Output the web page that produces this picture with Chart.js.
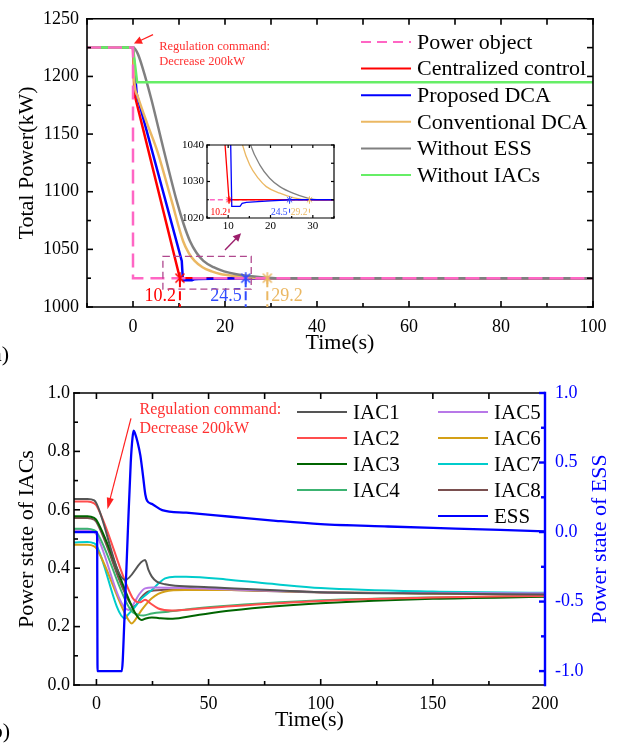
<!DOCTYPE html>
<html>
<head>
<meta charset="utf-8">
<script src="https://cdn.jsdelivr.net/npm/chart.js@4.4.1/dist/chart.umd.min.js"></script>
<style>
  body { margin: 0; background: #fff; }
  #wrap { position: relative; width: 634px; height: 752px; overflow: hidden; }
  canvas { position: absolute; }
</style>
</head>
<body>
<div id="wrap">
  <canvas id="powerChart" width="634" height="370" style="left:0;top:0"></canvas>
  <canvas id="zoomChart" width="171" height="100" style="left:169px;top:135px"></canvas>
  <canvas id="stateChart" width="634" height="382" style="left:0;top:370px"></canvas>
</div>
<script>
const FONT = "'Liberation Serif', 'Times New Roman', serif";
Chart.defaults.font.family = FONT;
Chart.defaults.color = '#000';

// (a) total power (kW) against time (s)
const objTime = [-10, 0, 0, 100];
const objPower = [1225, 1225, 1025, 1025];
const centralTime = [-10, 0, 0.3, 10.2, 100];
const centralPower = [1225, 1225, 1185, 1025, 1025];
const proposedTime = [-10, 0, 0.8, 10.6, 10.85, 12.8, 13.3, 14.3, 17, 20, 24.5, 100];
const proposedPower = [1225, 1225, 1185, 1040, 1023.2, 1023.2, 1024.0, 1024.3, 1024.5, 1024.7, 1025, 1025];
const conventionalTime = [-10, 0, 0.3, 1, 3, 5.3, 8.4, 10.9, 12.1, 13.4, 15.1, 17.1, 19, 22.2, 25.3, 29.2, 100];
const conventionalPower = [1225, 1225, 1195, 1183, 1160, 1135, 1092, 1057, 1047, 1040, 1034.5, 1030.9, 1028.6, 1026.8, 1025.6, 1025, 1025];
const noEssTime = [-10, 0, 1, 2.2, 4, 6.6, 9.5, 11, 12.4, 13.8, 15.3, 17.5, 19.8, 22.2, 25.3, 28.4, 31.6, 100];
const noEssPower = [1225, 1225, 1220, 1206, 1180, 1137.5, 1092, 1072, 1057, 1047, 1040, 1034.5, 1030.9, 1028.6, 1026.8, 1025.6, 1025, 1025];
const noIacTime = [-10, 0, 0.9, 100];
const noIacPower = [1225, 1225, 1195, 1195];

// settling points marked on the curves
const markTimes = [10.2, 24.5, 29.2];
const markPower = [1025, 1025, 1025];
const markColors = ['#ff0000', '#2f4bff', '#ebb863'];

const timeTicksA = [0, 20, 40, 60, 80, 100];
const powerTicks = [1000, 1050, 1100, 1150, 1200, 1250];
const zoomTimeTicks = [10, 20, 30];
const zoomPowerTicks = [1020, 1030, 1040];

// (b) power states of the IACs (left axis) and the ESS (right axis)
const iac1Time = [-10, -4, -1, 0, 12.8, 21.7, 23.2, 24.7, 26.9, 30.6, 35.1, 50, 100, 150, 200];
const iac1State = [0.637, 0.637, 0.632, 0.622, 0.36, 0.428, 0.394, 0.371, 0.354, 0.345, 0.34, 0.335, 0.318, 0.313, 0.31];
const iac2Time = [-10, -4, -1, 0, 16, 18, 19.5, 21.7, 24, 27.6, 33.6, 40, 60, 100, 150, 200];
const iac2State = [0.628, 0.628, 0.622, 0.615, 0.3, 0.285, 0.283, 0.292, 0.28, 0.262, 0.255, 0.258, 0.27, 0.288, 0.3, 0.305];
const iac3Time = [-10, -4, -1, 0, 17, 19, 20.2, 22, 24.7, 28, 34, 44, 60, 80, 100, 150, 200];
const iac3State = [0.578, 0.578, 0.572, 0.565, 0.25, 0.228, 0.223, 0.228, 0.231, 0.229, 0.227, 0.238, 0.255, 0.27, 0.28, 0.295, 0.302];
const iac4Time = [-10, -4, -1, 0, 15, 18.7, 21, 24.7, 32, 44, 60, 100, 150, 200];
const iac4State = [0.535, 0.535, 0.53, 0.525, 0.26, 0.24, 0.238, 0.245, 0.251, 0.262, 0.272, 0.29, 0.3, 0.304];
const iac5Time = [-10, -4, -1, 0, 14.3, 16, 19, 21.7, 25, 35, 50, 100, 150, 200];
const iac5State = [0.53, 0.53, 0.525, 0.515, 0.257, 0.27, 0.31, 0.331, 0.334, 0.333, 0.33, 0.318, 0.315, 0.314];
const iac6Time = [-10, -4, -1, 0, 14.5, 15.8, 17, 20.2, 24.7, 30.6, 39.5, 60, 100, 150, 200];
const iac6State = [0.48, 0.48, 0.475, 0.468, 0.22, 0.211, 0.22, 0.257, 0.297, 0.32, 0.325, 0.325, 0.318, 0.313, 0.311];
const iac7Time = [-10, -4, -1, 0, 12.8, 14, 17.2, 20, 24.7, 28, 30.6, 35, 40, 60, 80, 100, 150, 200];
const iac7State = [0.488, 0.49, 0.485, 0.478, 0.228, 0.24, 0.268, 0.295, 0.325, 0.35, 0.365, 0.371, 0.371, 0.36, 0.345, 0.332, 0.32, 0.316];
const iac8Time = [-10, -4, -1, 0, 15.5, 17, 20, 23.2, 30, 40, 60, 100, 150, 200];
const iac8State = [0.572, 0.572, 0.566, 0.558, 0.275, 0.27, 0.3, 0.32, 0.326, 0.327, 0.325, 0.317, 0.313, 0.312];
const essTime = [-10, 0.3, 0.5, 11.3, 12.5, 14, 15.3, 16.1, 16.6, 17.2, 18.3, 19.6, 20.8, 21.8, 22.6, 25, 29.3, 40, 60, 80, 100, 130, 160, 200];
const essState = [0.0, 0.0, -1.0, -1.0, -0.62, 0.0, 0.5, 0.68, 0.73, 0.71, 0.65, 0.55, 0.4, 0.27, 0.225, 0.2, 0.158, 0.139, 0.11, 0.081, 0.057, 0.04, 0.025, 0.005];

const timeTicksB = [0, 50, 100, 150, 200];
const iacTicks = [0, 0.2, 0.4, 0.6, 0.8, 1.0];
const essTicks = [-1.0, -0.5, 0, 0.5, 1.0];

const powerLines = [
  { label: 'Power object', t: objTime, v: objPower, color: '#ff66c4', dashed: true },
  { label: 'Centralized control', t: centralTime, v: centralPower, color: '#ff0000' },
  { label: 'Proposed DCA', t: proposedTime, v: proposedPower, color: '#0000ff' },
  { label: 'Conventional DCA', t: conventionalTime, v: conventionalPower, color: '#ebb863', smooth: true },
  { label: 'Without ESS', t: noEssTime, v: noEssPower, color: '#808080', smooth: true },
  { label: 'Without IACs', t: noIacTime, v: noIacPower, color: '#66ee66' }
];

const stateLines = [
  { label: 'IAC1', t: iac1Time, v: iac1State, color: '#555555' },
  { label: 'IAC2', t: iac2Time, v: iac2State, color: '#ff4d4d' },
  { label: 'IAC3', t: iac3Time, v: iac3State, color: '#006400' },
  { label: 'IAC4', t: iac4Time, v: iac4State, color: '#3cb371' },
  { label: 'IAC5', t: iac5Time, v: iac5State, color: '#b878e8' },
  { label: 'IAC6', t: iac6Time, v: iac6State, color: '#d4a017' },
  { label: 'IAC7', t: iac7Time, v: iac7State, color: '#00cccc' },
  { label: 'IAC8', t: iac8Time, v: iac8State, color: '#7a4f4f' },
  { label: 'ESS', t: essTime, v: essState, color: '#0000ff', axis: 'y1' }
];

const toPoints = (ts, vs) => ts.map((t, k) => ({ x: t, y: vs[k] }));

function powerDatasets(width, dash, order) {
  return powerLines.map((s, i) => ({
    label: s.label,
    data: toPoints(s.t, s.v),
    borderColor: s.color,
    borderWidth: width,
    borderDash: s.dashed ? dash : [],
    cubicInterpolationMode: s.smooth ? 'monotone' : 'default',
    tension: 0,
    pointRadius: 0,
    order: order[i]
  }));
}

// asterisk-like marker: an X with a vertical stroke
function starIcon(color, r, lw) {
  const c = document.createElement('canvas');
  c.width = c.height = 2 * r + 2;
  const g = c.getContext('2d');
  const m = r + 1, d = r * 0.75;
  g.strokeStyle = color;
  g.lineWidth = lw;
  g.beginPath();
  g.moveTo(m, m - r); g.lineTo(m, m + r);
  g.moveTo(m - d, m - d); g.lineTo(m + d, m + d);
  g.moveTo(m + d, m - d); g.lineTo(m - d, m + d);
  g.stroke();
  return c;
}

function markerDataset(r, lw) {
  return {
    data: toPoints(markTimes, markPower),
    showLine: false,
    pointStyle: markColors.map(c => starIcon(c, r, lw)),
    pointRadius: r,
    order: -1
  };
}

function text(ctx, str, x, y, o = {}) {
  ctx.save();
  ctx.font = `${o.size || 18}px ${FONT}`;
  ctx.fillStyle = o.color || '#000';
  ctx.textAlign = o.align || 'left';
  ctx.textBaseline = 'middle';
  ctx.translate(x, y);
  ctx.rotate(o.rotate || 0);
  ctx.fillText(str, 0, 0);
  ctx.restore();
}

function arrow(ctx, x1, y1, x2, y2, color, width, head, spread) {
  const ang = Math.atan2(y2 - y1, x2 - x1);
  ctx.save();
  ctx.strokeStyle = color;
  ctx.fillStyle = color;
  ctx.lineWidth = width;
  ctx.setLineDash([]);
  ctx.beginPath();
  ctx.moveTo(x1, y1);
  ctx.lineTo(x2 - head * 0.8 * Math.cos(ang), y2 - head * 0.8 * Math.sin(ang));
  ctx.stroke();
  ctx.beginPath();
  ctx.moveTo(x2, y2);
  ctx.lineTo(x2 - head * Math.cos(ang - spread), y2 - head * Math.sin(ang - spread));
  ctx.lineTo(x2 - head * Math.cos(ang + spread), y2 - head * Math.sin(ang + spread));
  ctx.closePath();
  ctx.fill();
  ctx.restore();
}

function legendRow(ctx, x, y, len, color, dash, label, size) {
  ctx.save();
  ctx.strokeStyle = color;
  ctx.lineWidth = 2;
  ctx.setLineDash(dash || []);
  ctx.beginPath();
  ctx.moveTo(x, y); ctx.lineTo(x + len, y);
  ctx.stroke();
  ctx.restore();
  text(ctx, label, x + len + 6, y + 1, { size });
}

// box frame with inward ticks on every side
const axesBox = {
  id: 'axesBox',
  afterDatasetsDraw(chart, args, opts) {
    const { ctx, chartArea: a, scales } = chart;
    ctx.save();
    ctx.lineCap = 'square';
    for (const side of opts.sides) {
      const s = scales[side.scale];
      ctx.strokeStyle = side.color || '#000';
      ctx.lineWidth = side.width || opts.width;
      ctx.beginPath();
      if (side.edge === 'bottom') { ctx.moveTo(a.left, a.bottom); ctx.lineTo(a.right, a.bottom); }
      if (side.edge === 'top') { ctx.moveTo(a.left, a.top); ctx.lineTo(a.right, a.top); }
      if (side.edge === 'left') { ctx.moveTo(a.left, a.top); ctx.lineTo(a.left, a.bottom); }
      if (side.edge === 'right') { ctx.moveTo(a.right, a.top); ctx.lineTo(a.right, a.bottom); }
      ctx.stroke();
      ctx.lineCap = 'butt';
      const n0 = Math.ceil(s.min / side.minor - 1e-6);
      const n1 = Math.floor(s.max / side.minor + 1e-6);
      for (let n = n0; n <= n1; n++) {
        const v = n * side.minor;
        const q = v / side.major;
        const len = Math.abs(q - Math.round(q)) < 1e-6 ? opts.major : opts.minor;
        const p = s.getPixelForValue(v);
        ctx.beginPath();
        if (side.edge === 'bottom') { ctx.moveTo(p, a.bottom); ctx.lineTo(p, a.bottom - len); }
        if (side.edge === 'top') { ctx.moveTo(p, a.top); ctx.lineTo(p, a.top + len); }
        if (side.edge === 'left') { ctx.moveTo(a.left, p); ctx.lineTo(a.left + len, p); }
        if (side.edge === 'right') { ctx.moveTo(a.right, p); ctx.lineTo(a.right - len, p); }
        ctx.stroke();
      }
      ctx.lineCap = 'square';
    }
    ctx.restore();
  }
};

function fixedTicks(values) {
  return s => { s.ticks = values.map(v => ({ value: v })); };
}

const noGrid = { display: false, drawTicks: false };

const baseOptions = {
  responsive: false,
  animation: false,
  devicePixelRatio: 1,
  events: [],
  elements: { point: { radius: 0 } }
};

// ---------- (a) ----------
new Chart(document.getElementById('powerChart'), {
  type: 'line',
  data: { datasets: powerDatasets(2.5, [14, 7], [0, 5, 4, 3, 2, 1]).concat(markerDataset(6, 1.5)) },
  options: {
    ...baseOptions,
    layout: { padding: { top: 16, right: 41, left: 0, bottom: 0 } },
    plugins: {
      legend: { display: false },
      tooltip: { enabled: false },
      axesBox: {
        width: 1.6, major: 6, minor: 4,
        sides: [
          { scale: 'x', edge: 'bottom', major: 20, minor: 10 },
          { scale: 'x', edge: 'top', major: 10, minor: 10 },
          { scale: 'y', edge: 'left', major: 50, minor: 25 },
          { scale: 'y', edge: 'right', major: 25, minor: 25 }
        ]
      }
    },
    scales: {
      x: {
        type: 'linear', min: -10, max: 100,
        grid: noGrid, border: { display: false },
        afterBuildTicks: fixedTicks(timeTicksA),
        afterFit: s => { s.height = 63; },
        ticks: { font: { size: 18 }, padding: 9, autoSkip: false, maxRotation: 0, callback: v => String(v) }
      },
      y: {
        min: 1000, max: 1250,
        grid: noGrid, border: { display: false },
        afterBuildTicks: fixedTicks(powerTicks),
        afterFit: s => { s.width = 87; },
        ticks: { font: { size: 18 }, padding: 8, callback: v => String(v) }
      }
    }
  },
  plugins: [axesBox, {
    id: 'powerDecor',
    afterDraw(chart) {
      const { ctx, scales: { x, y }, chartArea: a } = chart;
      // dashed drop lines and settling-time labels
      markTimes.forEach((t, k) => {
        const px = x.getPixelForValue(t);
        ctx.save();
        ctx.strokeStyle = markColors[k];
        ctx.lineWidth = 2;
        ctx.setLineDash([9, 4]);
        ctx.beginPath();
        ctx.moveTo(px, y.getPixelForValue(markPower[k]));
        ctx.lineTo(px, a.bottom);
        ctx.stroke();
        ctx.restore();
        const right = k < 2;
        text(ctx, t.toFixed(1), right ? px - 4 : px + 4, 296, { size: 18, color: markColors[k], align: right ? 'right' : 'left' });
      });

      // zoom window and pointer to the inset
      ctx.save();
      ctx.strokeStyle = '#b0488e';
      ctx.lineWidth = 1.3;
      ctx.setLineDash([7, 4]);
      const rx0 = x.getPixelForValue(6.5), rx1 = x.getPixelForValue(25.7);
      const ry0 = y.getPixelForValue(1044), ry1 = y.getPixelForValue(1015.5);
      ctx.strokeRect(rx0, ry0, rx1 - rx0, ry1 - ry0);
      ctx.restore();
      arrow(ctx, x.getPixelForValue(20), y.getPixelForValue(1049.5), x.getPixelForValue(23.5), y.getPixelForValue(1064),
        '#9c1f6c', 1.4, 9, 0.45);

      // command annotation
      arrow(ctx, x.getPixelForValue(4.35), y.getPixelForValue(1236.3), x.getPixelForValue(0.2), y.getPixelForValue(1228.5),
        '#ff2020', 1.3, 9, 0.45);
      text(ctx, 'Regulation command:', x.getPixelForValue(5.7), y.getPixelForValue(1226), { size: 12.5, color: '#ff3030' });
      text(ctx, 'Decrease 200kW', x.getPixelForValue(5.7), y.getPixelForValue(1213), { size: 12.5, color: '#ff3030' });

      // legend
      powerLines.forEach((s, i) => {
        legendRow(ctx, 361, 42 + 26.6 * i, 50, s.color, s.dashed ? [10, 6] : [], s.label, 22);
      });

      // axis titles
      text(ctx, 'Total Power(kW)', 27, (a.top + a.bottom) / 2, { size: 22, align: 'center', rotate: -Math.PI / 2 });
      text(ctx, 'Time(s)', (a.left + a.right) / 2, 343, { size: 22, align: 'center' });
      text(ctx, '(a)', 9, 355, { size: 22, align: 'right' });
    }
  }]
});

// ---------- (a) inset ----------
new Chart(document.getElementById('zoomChart'), {
  type: 'line',
  data: { datasets: powerDatasets(1.3, [5, 3], [2, 1, 0, 3, 4, 5]).concat(markerDataset(3.5, 1)) },
  options: {
    ...baseOptions,
    layout: { padding: { top: 10, right: 6, left: 0, bottom: 0 } },
    plugins: {
      legend: { display: false },
      tooltip: { enabled: false },
      axesBox: {
        width: 1.2, major: 3, minor: 2,
        sides: [
          { scale: 'x', edge: 'bottom', major: 10, minor: 5 },
          { scale: 'x', edge: 'top', major: 5, minor: 5 },
          { scale: 'y', edge: 'left', major: 10, minor: 5 },
          { scale: 'y', edge: 'right', major: 5, minor: 5 }
        ]
      }
    },
    scales: {
      x: {
        type: 'linear', min: 5, max: 35,
        grid: noGrid, border: { display: false },
        afterBuildTicks: fixedTicks(zoomTimeTicks),
        afterFit: s => { s.height = 17; },
        ticks: { font: { size: 11 }, padding: 2, autoSkip: false, maxRotation: 0, callback: v => String(v) }
      },
      y: {
        min: 1020, max: 1040,
        grid: noGrid, border: { display: false },
        afterBuildTicks: fixedTicks(zoomPowerTicks),
        afterFit: s => { s.width = 38; },
        ticks: { font: { size: 11 }, padding: 3, callback: v => String(v) }
      }
    }
  },
  plugins: [{
    id: 'insetBg',
    beforeDatasetsDraw(chart) {
      const { ctx, chartArea: a } = chart;
      ctx.save();
      ctx.fillStyle = '#fff';
      ctx.fillRect(a.left, a.top, a.right - a.left, a.bottom - a.top);
      ctx.restore();
    },
    afterDraw(chart) {
      const { ctx, scales: { x, y }, chartArea: a } = chart;
      markTimes.forEach((t, k) => {
        const px = x.getPixelForValue(t);
        ctx.save();
        ctx.strokeStyle = markColors[k];
        ctx.lineWidth = 1;
        ctx.setLineDash([4, 5]);
        ctx.beginPath();
        ctx.moveTo(px, y.getPixelForValue(markPower[k]));
        ctx.lineTo(px, a.bottom);
        ctx.stroke();
        ctx.restore();
        text(ctx, t.toFixed(1), px - 2, a.bottom - 6, { size: 9.5, color: markColors[k], align: 'right' });
      });
    }
  }, axesBox]
});

// ---------- (b) ----------
new Chart(document.getElementById('stateChart'), {
  type: 'line',
  data: {
    datasets: stateLines.map((s, i) => ({
      label: s.label,
      data: toPoints(s.t, s.v),
      yAxisID: s.axis || 'y',
      borderColor: s.color,
      borderWidth: s.axis ? 2.3 : 2,
      cubicInterpolationMode: 'monotone',
      pointRadius: 0,
      order: s.axis ? 0 : i + 1
    }))
  },
  options: {
    ...baseOptions,
    layout: { padding: { top: 23, right: 0, left: 0, bottom: 0 } },
    plugins: {
      legend: { display: false },
      tooltip: { enabled: false },
      axesBox: {
        width: 1.6, major: 6, minor: 4,
        sides: [
          { scale: 'x', edge: 'bottom', major: 50, minor: 25 },
          { scale: 'x', edge: 'top', major: 25, minor: 25 },
          { scale: 'y', edge: 'left', major: 0.2, minor: 0.1 },
          { scale: 'y1', edge: 'right', major: 0.5, minor: 0.25, color: '#0000ff', width: 2.4 }
        ]
      }
    },
    scales: {
      x: {
        type: 'linear', min: -10, max: 200,
        grid: noGrid, border: { display: false },
        afterBuildTicks: fixedTicks(timeTicksB),
        afterFit: s => { s.height = 67; },
        ticks: { font: { size: 18 }, padding: 8, autoSkip: false, maxRotation: 0, callback: v => String(v) }
      },
      y: {
        position: 'left', min: 0, max: 1,
        grid: noGrid, border: { display: false },
        afterBuildTicks: fixedTicks(iacTicks),
        afterFit: s => { s.width = 74; },
        ticks: { font: { size: 18 }, padding: 4, callback: v => v.toFixed(1) }
      },
      y1: {
        position: 'right', min: -1.1, max: 1.0,
        grid: noGrid, border: { display: false },
        afterBuildTicks: fixedTicks(essTicks),
        afterFit: s => { s.width = 89; },
        ticks: { font: { size: 18 }, color: '#0000ff', padding: 10, callback: v => v.toFixed(1) }
      }
    }
  },
  plugins: [axesBox, {
    id: 'stateDecor',
    afterDraw(chart) {
      const { ctx, scales: { x, y }, chartArea: a } = chart;
      arrow(ctx, x.getPixelForValue(15.4), y.getPixelForValue(0.913), x.getPixelForValue(4.9), y.getPixelForValue(0.602),
        '#ff2020', 1.2, 12, 0.3);
      text(ctx, 'Regulation command:', x.getPixelForValue(19.2), y.getPixelForValue(0.943), { size: 16, color: '#ff3030' });
      text(ctx, 'Decrease 200kW', x.getPixelForValue(19.2), y.getPixelForValue(0.877), { size: 16, color: '#ff3030' });

      // two-column legend
      stateLines.forEach((s, i) => {
        const col = i < 4 ? 0 : 1;
        const row = i < 4 ? i : i - 4;
        legendRow(ctx, col ? 438 : 297, 42 + 26 * row, 50, s.color, [], s.label, 21);
      });

      const mid = (a.top + a.bottom) / 2;
      text(ctx, 'Power state of IACs', 27, mid, { size: 22, align: 'center', rotate: -Math.PI / 2 });
      text(ctx, 'Power state of ESS', 600, mid, { size: 22, align: 'center', rotate: -Math.PI / 2, color: '#0000ff' });
      text(ctx, 'Time(s)', (a.left + a.right) / 2, 350, { size: 22, align: 'center' });
      text(ctx, '(b)', 10, 362, { size: 22, align: 'right' });
    }
  }]
});
</script>
</body>
</html>
